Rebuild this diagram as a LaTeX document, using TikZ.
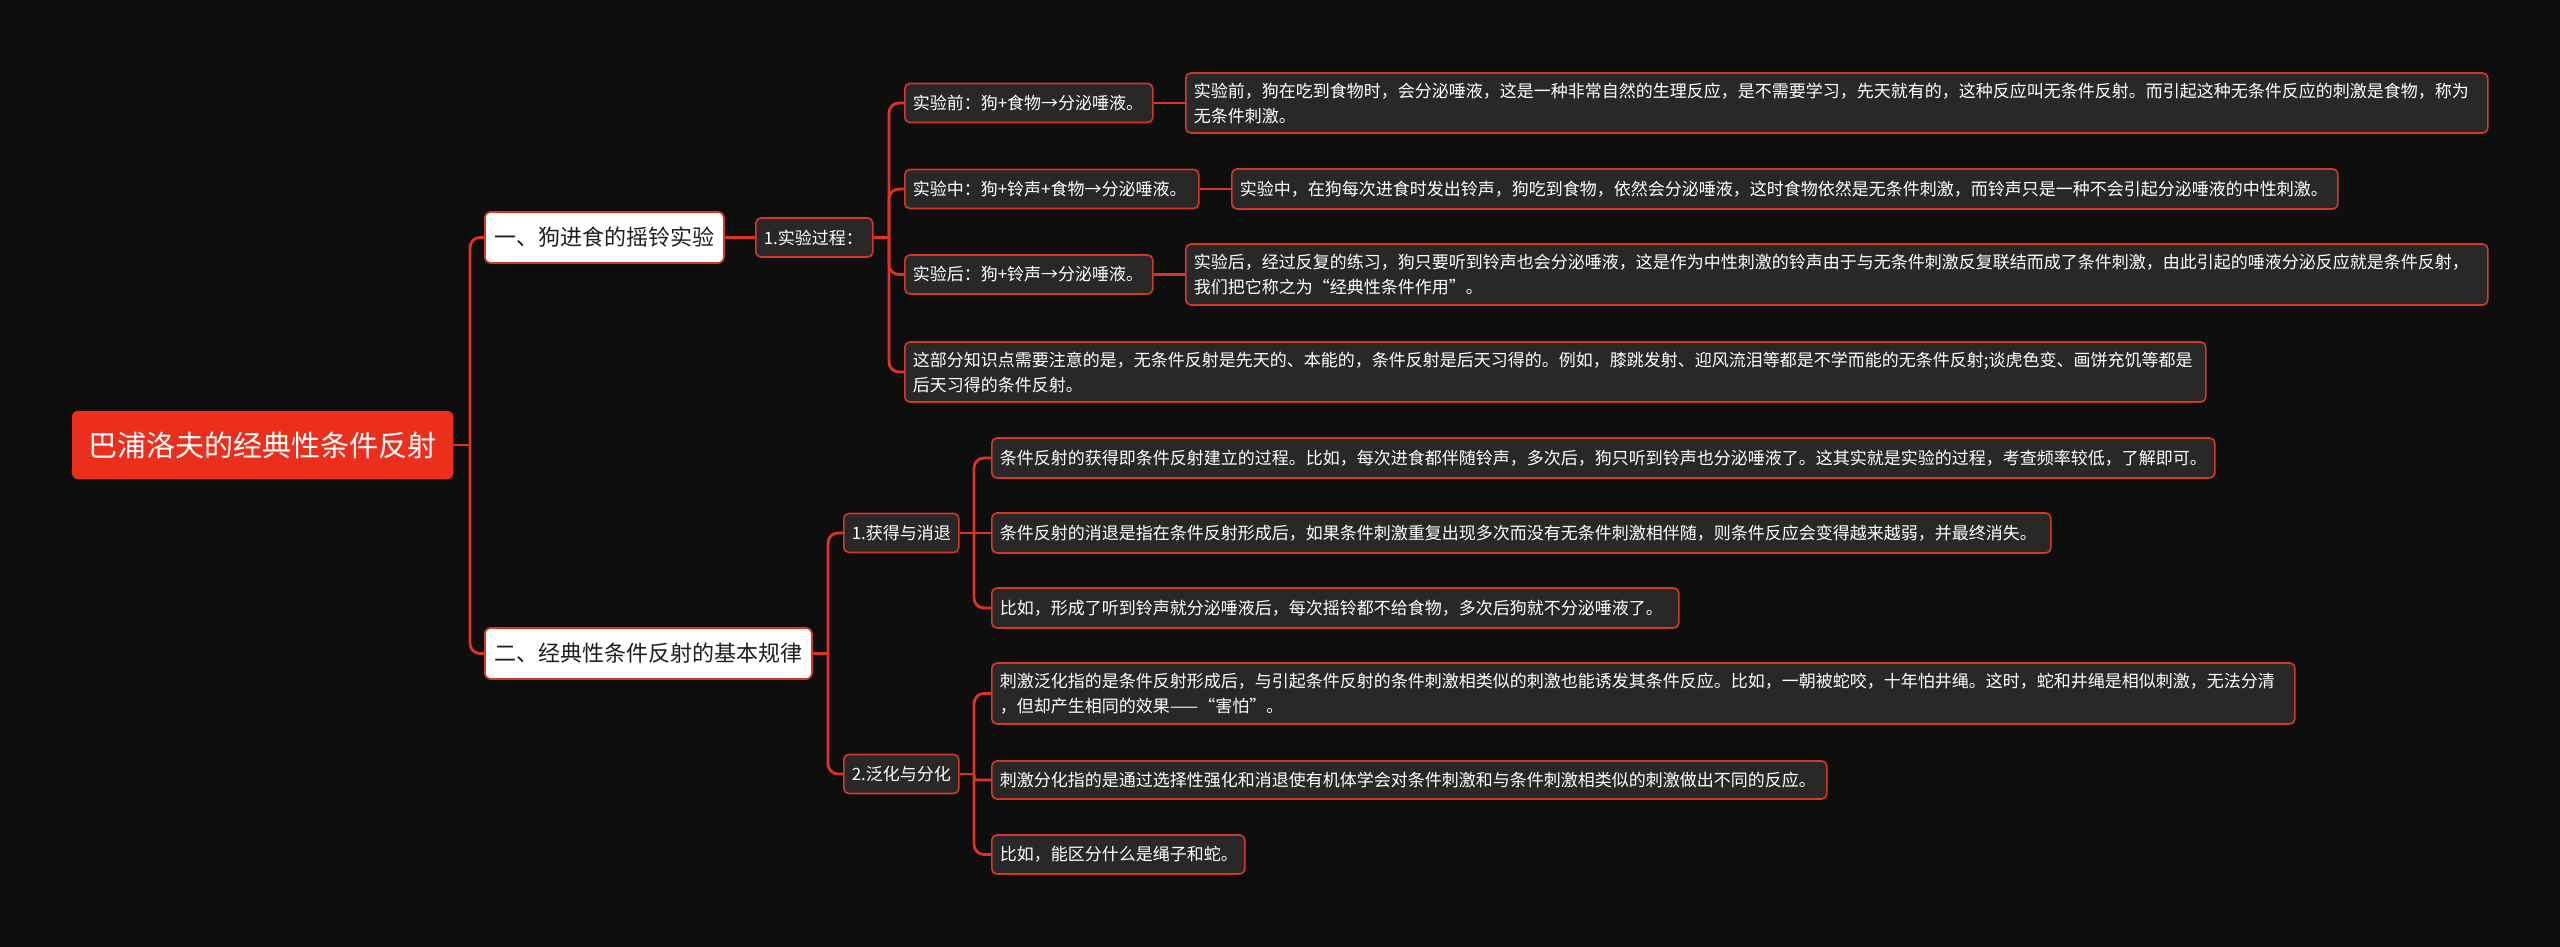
\documentclass[tikz,border=0pt]{standalone}
\usepackage{fontspec}
\newfontfamily\cjk{Noto Sans CJK SC}
\definecolor{bgc}{RGB}{14,14,14}
\definecolor{rootc}{RGB}{236,46,28}
\definecolor{linec}{RGB}{222,50,34}
\definecolor{borderc}{RGB}{214,56,40}
\definecolor{boxc}{RGB}{40,40,40}
\definecolor{darktext}{RGB}{30,30,30}
\begin{document}
\begin{tikzpicture}[x=1pt,y=-1pt,
  conn/.style={draw=linec, line width=2.8pt, rounded corners=10pt},
  rootbox/.style={fill=rootc, draw=rootc, rounded corners=6pt, font=\cjk\fontsize{29}{35}\selectfont, text=white, anchor=west, inner sep=0pt, align=center},
  lonebox/.style={fill=white, draw=borderc, line width=1.8pt, rounded corners=6pt, font=\cjk\fontsize{22}{28}\selectfont, text=darktext, anchor=west, inner sep=0pt, align=center, minimum height=51pt},
  smallbox/.style={fill=boxc, draw=borderc, line width=1.6pt, rounded corners=5pt, font=\cjk\fontsize{17}{25}\selectfont, text=white, anchor=west, inner xsep=8pt, inner ysep=0pt, align=left}
]
\fill[bgc] (0,0) rectangle (2560,947);
\useasboundingbox (0,0) rectangle (2560,947);

% root and level 1
\node[rootbox, minimum width=381pt, minimum height=68pt] (root) at (72,445) {巴浦洛夫的经典性条件反射};
\node[lonebox, minimum width=239pt] (A) at (484,237.5) {一、狗进食的摇铃实验};
\node[lonebox, minimum width=327pt] (B) at (484,653.5) {二、经典性条件反射的基本规律};

% level 2
\node[smallbox, text width=101pt, minimum height=39pt] (C) at (755,237.5) {1.实验过程：};
\node[smallbox, text width=99pt, minimum height=39pt] (F) at (843,533) {1.获得与消退};
\node[smallbox, text width=99pt, minimum height=39pt] (G) at (843,774) {2.泛化与分化};

% level 3 (branch 1)
\node[smallbox, text width=232pt, minimum height=39pt] (D1) at (904,103) {实验前：狗+食物→分泌唾液。};
\node[smallbox, text width=278pt, minimum height=39pt] (D2) at (904,189) {实验中：狗+铃声+食物→分泌唾液。};
\node[smallbox, text width=232pt, minimum height=39pt] (D3) at (904,274.5) {实验后：狗+铃声→分泌唾液。};
\node[smallbox, text width=1285pt, minimum height=60pt] (D4) at (904,372) {这部分知识点需要注意的是，无条件反射是先天的、本能的，条件反射是后天习得的。例如，膝跳发射、迎风流泪等都是不学而能的无条件反射;谈虎色变、画饼充饥等都是\\后天习得的条件反射。};

\node[smallbox, text width=1286pt, minimum height=60pt] (E1) at (1185,103) {实验前，狗在吃到食物时，会分泌唾液，这是一种非常自然的生理反应，是不需要学习，先天就有的，这种反应叫无条件反射。而引起这种无条件反应的刺激是食物，称为\\无条件刺激。};
\node[smallbox, text width=1090pt, minimum height=40pt] (E2) at (1231,189) {实验中，在狗每次进食时发出铃声，狗吃到食物，依然会分泌唾液，这时食物依然是无条件刺激，而铃声只是一种不会引起分泌唾液的中性刺激。};
\node[smallbox, text width=1286pt, minimum height=61pt] (E3) at (1185,274.5) {实验后，经过反复的练习，狗只要听到铃声也会分泌唾液，这是作为中性刺激的铃声由于与无条件刺激反复联结而成了条件刺激，由此引起的唾液分泌反应就是条件反射，\\我们把它称之为“经典性条件作用”。};

% level 3 (branch 2)
\node[smallbox, text width=1207pt, minimum height=40pt] (H1) at (991,458) {条件反射的获得即条件反射建立的过程。比如，每次进食都伴随铃声，多次后，狗只听到铃声也分泌唾液了。这其实就是实验的过程，考查频率较低，了解即可。};
\node[smallbox, text width=1043pt, minimum height=40pt] (H2) at (991,533) {条件反射的消退是指在条件反射形成后，如果条件刺激重复出现多次而没有无条件刺激相伴随，则条件反应会变得越来越弱，并最终消失。};
\node[smallbox, text width=671pt, minimum height=40pt] (H3) at (991,608) {比如，形成了听到铃声就分泌唾液后，每次摇铃都不给食物，多次后狗就不分泌唾液了。};

\node[smallbox, text width=1287pt, minimum height=61pt] (I1) at (991,693.5) {刺激泛化指的是条件反射形成后，与引起条件反射的条件刺激相类似的刺激也能诱发其条件反应。比如，一朝被蛇咬，十年怕井绳。这时，蛇和井绳是相似刺激，无法分清\\，但却产生相同的效果——“害怕”。};
\node[smallbox, text width=819pt, minimum height=38pt] (I2) at (991,780) {刺激分化指的是通过选择性强化和消退使有机体学会对条件刺激和与条件刺激相类似的刺激做出不同的反应。};
\node[smallbox, text width=237pt, minimum height=39pt] (I3) at (991,854.5) {比如，能区分什么是绳子和蛇。};

% spine coordinates
\coordinate (s0) at (470,445);
\coordinate (s1) at (889,237.5);
\coordinate (s2) at (828,653.5);
\coordinate (s3) at (974,533);
\coordinate (s4) at (974,774);

% connectors
\draw[conn] (root.east) -- (s0);
\draw[conn] (s0) |- (A.west);
\draw[conn] (s0) |- (B.west);

\draw[conn] (A.east) -- (C.west);
\draw[conn] (C.east) -- (s1);
\draw[conn] (s1) |- (D1.west);
\draw[conn] (s1) |- (D2.west);
\draw[conn] (s1) |- (D3.west);
\draw[conn] (s1) |- (D4.west);
\draw[conn] (D1.east) -- (E1.west);
\draw[conn] (D2.east) -- (E2.west);
\draw[conn] (D3.east) -- (E3.west);

\draw[conn] (B.east) -- (s2);
\draw[conn] (s2) |- (F.west);
\draw[conn] (s2) |- (G.west);

\draw[conn] (F.east) -- (s3);
\draw[conn] (s3) |- (H1.west);
\draw[conn] (s3) -- (H2.west);
\draw[conn] (s3) |- (H3.west);

\draw[conn] (G.east) -- (s4);
\draw[conn] (s4) |- (I1.west);
\draw[conn, rounded corners=3pt] (s4) |- (I2.west);
\draw[conn] (s4) |- (I3.west);
\end{tikzpicture}
\end{document}
